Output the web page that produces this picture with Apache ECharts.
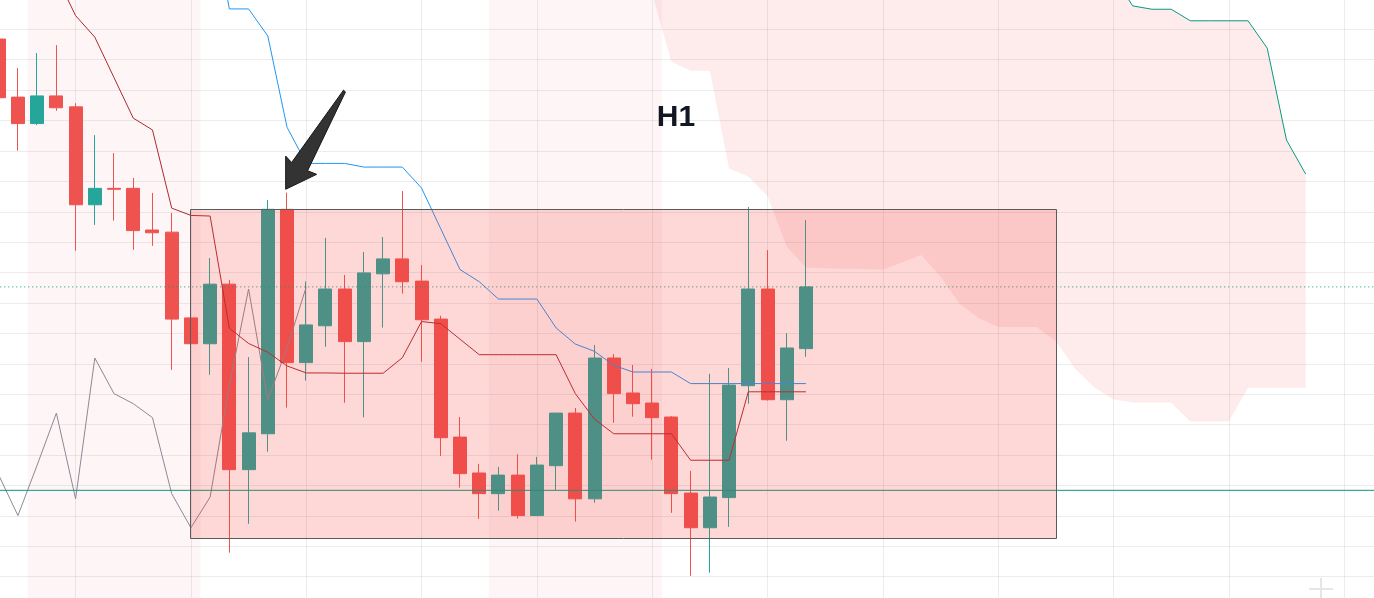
<!DOCTYPE html>
<html>
<head>
<meta charset="utf-8">
<script src="https://cdn.jsdelivr.net/npm/echarts@6/dist/echarts.min.js"></script>
<style>
html,body{margin:0;padding:0;background:#ffffff;}
#chart{width:1374px;height:598px;}
</style>
</head>
<body>
<div id="chart"></div>
<script>
// ---- bar index (one step = one H1 candle) ----
const barIndex = [-4,-3,-2,-1,0,1,2,3,4,5,6,7,8,9,10,11,12,13,14,15,16,17,18,19,20,21,22,23,24,25,26,27,28,29,30,31,32,33,34,35,36,37,38];

// ---- OHLC ----
const opens  = [186.8,167.7,159.0,168.1,164.5,132.3,137.7,137.7,124.0,123.3,95.1,86.6,106.2,45.2,57.0,130.8,80.4,92.5,104.6,87.3,109.6,114.5,107.2,94.7,55.9,44.1,37.3,43.4,30.1,46.5,63.8,35.6,81.9,70.4,67.1,62.5,37.5,26.1,36.0,72.8,104.6,68.2,85.0];
const closes = [167.5,159.0,168.1,164.2,132.3,137.7,137.4,123.8,123.1,94.7,86.6,106.2,45.2,57.3,130.8,80.4,92.8,104.6,87.3,109.9,114.5,107.0,94.5,55.7,43.9,37.3,43.4,30.1,46.7,63.8,35.6,81.9,70.2,66.9,62.3,37.3,26.1,36.2,73.0,104.6,68.2,85.2,105.3];
const highs  = [189.0,177.3,182.2,184.8,165.7,155.2,149.3,141.1,136.2,129.6,97.7,114.8,107.6,82.2,133.9,136.3,107.1,121.4,109.2,116.8,121.7,136.8,112.5,95.8,62.5,47.1,46.1,50.3,49.4,63.8,65.5,86.2,83.2,79.6,78.3,62.8,44.8,76.7,78.6,131.6,117.4,90.1,127.3];
const lows   = [165.0,150.1,158.5,163.2,117.2,125.7,127.1,117.5,118.8,78.0,72.7,76.4,17.9,27.4,51.1,65.6,74.5,85.6,67.2,62.4,91.9,103.1,80.7,49.7,39.3,29.0,31.7,29.1,30.0,38.5,28.1,34.3,60.6,62.6,48.5,31.0,10.3,11.3,26.4,66.9,67.9,54.7,82.3];

// ---- Ichimoku lines ----
const conversionLine = [224.3,219.4,214.4,207.5,194.5,187.4,174.1,160.8,156.9,131.2,128.8,128.6,91.7,86.7,83.8,79.3,77.0,77.0,76.9,76.9,76.9,82.0,93.9,93.2,88.1,83.0,83.0,83.0,83.0,83.0,70.2,61.8,57.0,57.0,57.0,57.0,48.3,48.3,48.3,70.8,70.8,70.8,70.8];
const baseLine = [236.0,236.0,236.0,234.5,234.5,234.5,233.0,233.0,233.0,231.5,231.5,230.2,196.7,196.7,187.8,157.8,145.9,145.9,145.9,144.7,144.7,144.7,137.8,124.4,111.0,107.0,101.3,101.3,101.3,91.8,86.5,84.1,79.5,77.3,77.3,77.3,73.5,73.5,73.5,73.5,73.5,73.5,73.5];
const lagShift = 26;

// ---- cloud (leading spans, plotted ahead) ----
const cloudIndex = [29,30,31,32,33,34,35,36,37,38,39,40,41,42,43,44,45,46,47,48,49,50,51,52,53,54,55,56,57,58,59,60,61,62,63,64];
const spanLower  = [219.4,201.6,179.3,176.4,176.4,144.2,141.6,135.2,118.5,111.7,111.4,111.3,111.2,110.9,113.3,115.8,108.6,99.7,95.0,92.1,92.1,92.1,87.5,78.5,72.3,68.3,67.3,67.3,67.3,61.0,61.0,61.0,72.1,72.1,72.1,72.1];
const spanUpper  = [245.0,245.0,243.0,240.0,240.0,238.0,236.0,236.0,234.0,232.0,232.0,230.0,228.0,226.0,224.0,224.0,222.0,220.0,218.0,216.0,214.0,212.0,212.0,210.0,210.0,207.5,197.7,196.6,196.6,192.8,192.8,192.8,192.8,183.8,153.6,142.4];

// ---- drawings ----
const sessionStart = [-2.5, 21.5];
const sessionEnd   = [6.5, 30.5];
const boxX = [6, 51];
const boxY = [22.6, 130.8];
const supportLevel = 38.4;
const arrowX = [13.94, 11.24, 10.93, 10.93, 12.54, 12.07, 14.04];
const arrowY = [170.0, 146.2, 148.3, 137.4, 142.3, 143.5, 169.4];
const labelText = 'H1';
const labelX = [30.24];
const labelY = [160.9];

// ---- axis ticks ----
const xMin = -6, xMax = 72, xStep = 6;
const yMin = 0, yMax = 200, yStep = 10;

// ---- build series data ----
const candleData = barIndex.map((k, i) => [k, opens[i], closes[i], lows[i], highs[i]]);
const convData = barIndex.map((k, i) => [k, conversionLine[i]]);
const baseData = barIndex.map((k, i) => [k, baseLine[i]]);
const lagData = [];
barIndex.forEach((k, i) => {
  const target = k - lagShift;
  if (target >= barIndex[0]) lagData.push([target, closes[i]]);
});
const upperData = cloudIndex.map((k, i) => [k, spanUpper[i]]);
const lastClose = closes[closes.length - 1];

const RED_FILL = 'rgba(244,60,55,';

const chart = echarts.init(document.getElementById('chart'), null, {renderer: 'canvas'});

const option = {
  animation: false,
  backgroundColor: '#ffffff',
  grid: {left: -39.72, right: -85.44, top: -1.1, bottom: -9.1, containLabel: false, outerBoundsMode: 'none'},
  xAxis: {
    type: 'value', min: xMin, max: xMax, interval: xStep,
    axisLine: {show: false}, axisTick: {show: false}, axisLabel: {show: false},
    splitLine: {show: true, lineStyle: {color: 'rgba(42,46,57,0.09)', width: 1}}
  },
  yAxis: {
    type: 'value', min: yMin, max: yMax, interval: yStep,
    axisLine: {show: false}, axisTick: {show: false}, axisLabel: {show: false},
    splitLine: {show: true, lineStyle: {color: 'rgba(42,46,57,0.09)', width: 1}}
  },
  graphic: [
    {type: 'line', silent: true, shape: {x1: 1309, y1: 589, x2: 1333, y2: 589}, style: {stroke: '#e6e6e6', lineWidth: 2}},
    {type: 'line', silent: true, shape: {x1: 1321, y1: 578, x2: 1321, y2: 598}, style: {stroke: '#e6e6e6', lineWidth: 2}}
  ],
  series: [
    {
      name: 'sessions', type: 'custom', z: 1, silent: true,
      data: sessionStart.map((s, i) => [s, sessionEnd[i]]),
      renderItem: function (params, api) {
        const a = api.coord([api.value(0), yMax]);
        const b = api.coord([api.value(1), yMin]);
        return {type: 'rect', shape: {x: a[0], y: a[1], width: b[0] - a[0], height: b[1] - a[1]},
                style: {fill: 'rgba(242,54,69,0.05)'}};
      }
    },
    {
      name: 'cloud', type: 'custom', z: 1, silent: true,
      data: cloudIndex.map((k, i) => [k, spanLower[i]]),
      renderItem: function (params, api) {
        if (params.dataIndex !== 0) return null;
        const pts = [];
        for (let i = 0; i < cloudIndex.length; i++) pts.push(api.coord([cloudIndex[i], spanUpper[i]]));
        for (let i = cloudIndex.length - 1; i >= 0; i--) pts.push(api.coord([cloudIndex[i], spanLower[i]]));
        return {type: 'polygon', shape: {points: pts}, style: {fill: RED_FILL + '0.1)'}};
      }
    },
    {
      name: 'price', type: 'candlestick', z: 2,
      data: candleData,
      encode: {x: 0, y: [1, 2, 3, 4]},
      barWidth: 13.5,
      itemStyle: {color: '#26a69a', color0: '#ef5350', borderColor: '#26a69a', borderColor0: '#ef5350', borderWidth: 1}
    },
    {
      name: 'lagging', type: 'line', z: 3, data: lagData, showSymbol: false, symbol: 'none',
      lineStyle: {color: '#8a8a95', width: 1}
    },
    {
      name: 'conversion', type: 'line', z: 3, data: convData, showSymbol: false, symbol: 'none',
      lineStyle: {color: '#ad2a2f', width: 1}
    },
    {
      name: 'base', type: 'line', z: 3, data: baseData, showSymbol: false, symbol: 'none',
      lineStyle: {color: '#2196f3', width: 1}
    },
    {
      name: 'spanUpper', type: 'line', z: 3, data: upperData, showSymbol: false, symbol: 'none',
      lineStyle: {color: '#089981', width: 1}
    },
    {
      name: 'support', type: 'line', z: 3, data: [[xMin, supportLevel], [xMax, supportLevel]],
      showSymbol: false, symbol: 'none', lineStyle: {color: '#089981', width: 1}
    },
    {
      name: 'last', type: 'line', z: 3, data: [[xMin, lastClose], [xMax, lastClose]],
      showSymbol: false, symbol: 'none', lineStyle: {color: '#089981', width: 1, type: [1, 3]}
    },
    {
      name: 'box', type: 'custom', z: 4, silent: true,
      data: [[boxX[0], boxY[1], boxX[1], boxY[0]]],
      renderItem: function (params, api) {
        const a = api.coord([api.value(0), api.value(1)]);
        const b = api.coord([api.value(2), api.value(3)]);
        const x0 = Math.round(a[0]) - 0.5, y0 = Math.round(a[1]) + 0.5;
        const x1 = Math.round(b[0]) + 0.5, y1 = Math.round(b[1]) + 0.5;
        return {type: 'rect', shape: {x: x0, y: y0, width: x1 - x0, height: y1 - y0},
                style: {fill: RED_FILL + '0.2)', stroke: '#5b5b5b', lineWidth: 1}};
      }
    },
    {
      name: 'arrow', type: 'custom', z: 5, silent: true,
      data: arrowX.map((x, i) => [x, arrowY[i]]),
      renderItem: function (params, api) {
        if (params.dataIndex !== 0) return null;
        const pts = arrowX.map((x, i) => api.coord([x, arrowY[i]]));
        return {type: 'polygon', shape: {points: pts},
                style: {fill: '#333333', stroke: '#161616', lineWidth: 1, lineJoin: 'miter'}};
      }
    },
    {
      name: 'label', type: 'custom', z: 6, silent: true,
      data: labelX.map((x, i) => [x, labelY[i]]),
      renderItem: function (params, api) {
        const p = api.coord([api.value(0), api.value(1)]);
        return {type: 'text', x: p[0], y: p[1],
                style: {text: labelText, font: 'bold 30px "Liberation Sans", Arial, sans-serif', fill: '#131722',
                        align: 'left', verticalAlign: 'middle', textAlign: 'left', textVerticalAlign: 'middle'}};
      }
    }
  ]
};
chart.setOption(option);
</script>
</body>
</html>
